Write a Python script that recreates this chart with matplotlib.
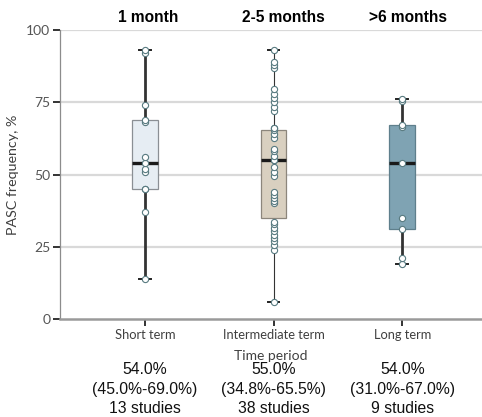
import matplotlib
matplotlib.use("Agg")
import matplotlib.pyplot as plt
import matplotlib.transforms as mtransforms
import numpy as np

# Categories and headers
categories = ["Short term", "Intermediate term", "Long term"]
periods = ["1 month", "2-5 months", ">6 months"]

# Summary statistics per period (median, IQR) and study counts
medians = [54.0, 55.0, 54.0]
q1s = [45.0, 34.8, 31.0]
q3s = [69.0, 65.5, 67.0]
n_studies = [13, 38, 9]

# Individual study PASC frequencies (%)
short_term = [14, 37, 45, 45, 51, 52, 54, 56, 68, 69, 74, 92, 93]
intermediate_term = [6, 24, 25.5, 27, 28, 29, 30.5, 31.5, 33, 33.5,
                     40, 41, 42, 43, 44, 49.5, 51, 52.5, 55, 55,
                     56.5, 58, 59, 62.5, 64, 65.5, 66, 66,
                     72, 73.5, 75, 76.5, 78, 79.5, 87, 88, 89, 93]
long_term = [19, 21, 31, 35, 54, 66.5, 67, 75.5, 76]
studies = [short_term, intermediate_term, long_term]

box_faces = ["#e6edf3", "#d9d0c0", "#7fa3b3"]
box_edges = ["#8a8f94", "#8c867c", "#5f7f8c"]
whisker_widths = [2.0, 0.8, 2.0]

plt.rcParams["font.family"] = ["Lato", "DejaVu Sans"]

fig = plt.figure(figsize=(4.82, 4.17), dpi=100)
ax = fig.add_axes([0.1245, 0.235, 0.8755, 0.693])

positions = np.arange(len(categories))
stats = []
for i, vals in enumerate(studies):
    stats.append({
        "med": medians[i], "q1": q1s[i], "q3": q3s[i],
        "whislo": min(vals), "whishi": max(vals),
        "fliers": [], "label": categories[i],
    })

parts = ax.bxp(stats, positions=positions, widths=0.2, capwidths=0.09,
               patch_artist=True, showfliers=False, manage_ticks=False)

for i, box in enumerate(parts["boxes"]):
    box.set_facecolor(box_faces[i])
    box.set_edgecolor(box_edges[i])
    box.set_linewidth(0.9)
    box.set_zorder(2)
for i, med in enumerate(parts["medians"]):
    med.set_color("#1a1a1a")
    med.set_linewidth(2.4)
    med.set_zorder(3)
for j, wh in enumerate(parts["whiskers"]):
    wh.set_color("#333333")
    wh.set_linewidth(whisker_widths[j // 2])
    wh.set_zorder(1.5)
for j, cap in enumerate(parts["caps"]):
    cap.set_color("#222222")
    cap.set_linewidth(1.4)
    cap.set_zorder(1.5)

for i, vals in enumerate(studies):
    ax.scatter(np.full(len(vals), positions[i]), vals, s=20, facecolor="white",
               edgecolor="#587a80", linewidth=0.8, zorder=4)

ax.set_xlim(-0.66, 2.62)
ax.set_ylim(0, 100)
ax.set_yticks([0, 25, 50, 75, 100])
for y in [25, 50, 75, 100]:
    ax.axhline(y, color="#d9d9d9", linewidth=1.6, zorder=0)

for s in ["top", "right"]:
    ax.spines[s].set_visible(False)
ax.spines["left"].set_color("#8c8c8c")
ax.spines["left"].set_linewidth(0.9)
ax.spines["bottom"].set_color("#9a9a9a")
ax.spines["bottom"].set_linewidth(1.8)

ax.set_xticks(positions)
ax.set_xticklabels(categories)
ax.tick_params(axis="x", length=5, width=1.4, color="#333333",
               labelsize=9.3, labelcolor="#404040", pad=2.5)
ax.tick_params(axis="y", length=5, width=1.4, color="#333333",
               labelsize=10, labelcolor="#555555", pad=2)

ax.set_ylabel("PASC frequency, %", fontsize=10.3, color="#404040", labelpad=5)
ax.set_xlabel("Time period", fontsize=10, color="#404040", labelpad=6)

# Period headers above the plot
trans_top = mtransforms.blended_transform_factory(ax.transData, fig.transFigure)
header_offsets = [3, 10, 6]
for i, txt in enumerate(periods):
    ax.annotate(txt, xy=(positions[i], 1 - 18 / 417), xycoords=trans_top,
                xytext=(header_offsets[i] * 0.72, 0), textcoords="offset points",
                ha="center", va="center", fontsize=11.2, fontweight="bold",
                family=["Liberation Sans", "DejaVu Sans"], annotation_clip=False)

# Summary text under each category
for i in range(len(categories)):
    lines = [f"{medians[i]:.1f}%",
             f"({q1s[i]:.1f}%-{q3s[i]:.1f}%)",
             f"{n_studies[i]} studies"]
    for k, line in enumerate(lines):
        ax.text(positions[i], 1 - (370 + 19.2 * k) / 417, line,
                transform=trans_top, ha="center", va="center", fontsize=11.3,
                family=["Liberation Sans", "DejaVu Sans"], color="#111111")

fig.savefig("out.png", dpi=100)
